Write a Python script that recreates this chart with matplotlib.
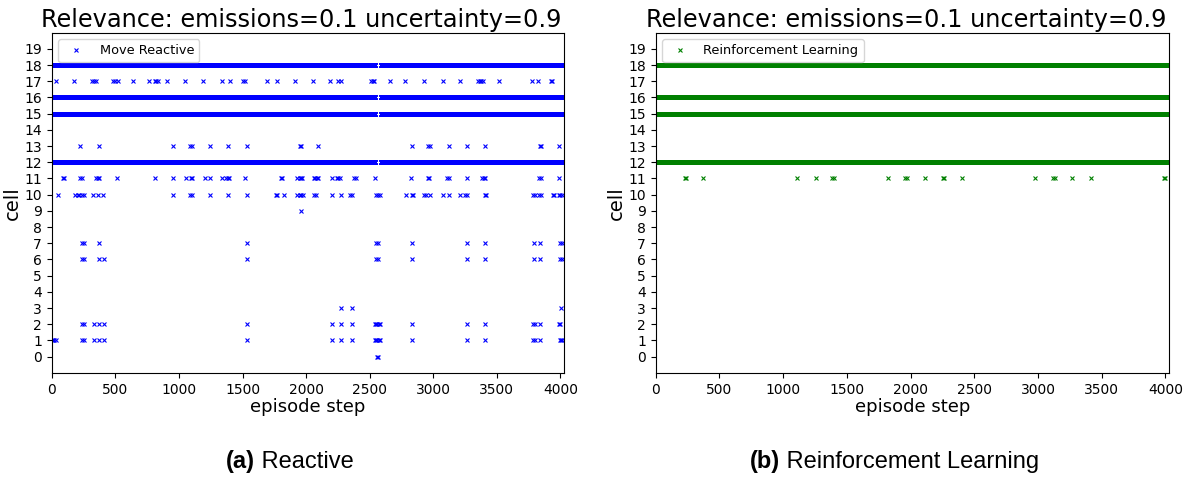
import matplotlib
matplotlib.use("Agg")
import matplotlib.pyplot as plt
import numpy as np

n_steps = 4030
cells = list(range(20))
step_ticks = [0, 500, 1000, 1500, 2000, 2500, 3000, 3500, 4000]

# cells that stay occupied for the whole episode, with the step ranges where they empty out
react_full_rows = [18, 16, 15, 12]
react_gaps = {
    18: [(238, 244), (2545, 2585), (3263, 3269), (3407, 3413)],
    16: [(238, 244), (334, 340), (1515, 1521), (1954, 1960), (2080, 2086), (2246, 2252),
         (2356, 2362), (2545, 2585), (2829, 2835), (2966, 2972), (3263, 3269),
         (3392, 3402), (3827, 3833)],
    15: [(238, 244), (2545, 2585), (2829, 2835), (3263, 3269), (3827, 3833)],
    12: [(238, 244), (2545, 2585)],
}

# sparse visits of the reactive agent, per cell
react_c17 = [34, 173, 318, 332, 345, 485, 500, 522, 641, 765, 810, 822, 835, 909, 1048, 1193,
             1335, 1400, 1505, 1517, 1689, 1768, 1913, 2052, 2188, 2249, 2275, 2510, 2522, 2534,
             2656, 2780, 2924, 3074, 3213, 3352, 3365, 3378, 3391, 3520, 3778, 3825, 3922, 3934]
react_c13 = [226, 368, 954, 1087, 1100, 1248, 1387, 1532, 1950, 1962, 2091, 2832, 2962, 2975,
             3121, 3266, 3405, 3838, 3850, 3988]
react_c11 = [86, 98, 225, 237, 350, 362, 372, 515, 809, 954, 1059, 1092, 1104, 1203, 1242,
             1340, 1370, 1382, 1394, 1518, 1801, 1813, 1926, 1950, 1960, 1970, 2060, 2072,
             2084, 2096, 2207, 2240, 2252, 2264, 2378, 2390, 2543, 2827, 2958, 2970, 3110,
             3122, 3266, 3385, 3397, 3409, 3832, 3844, 3988]
react_c10 = [47, 184, 205, 218, 240, 252, 324, 363, 402, 954, 1087, 1100, 1248, 1387, 1532,
             1762, 1774, 1828, 1926, 1950, 1962, 1972, 2064, 2076, 2201, 2275, 2348, 2360,
             2550, 2562, 2582, 2785, 2832, 2844, 2930, 2942, 2977, 3074, 3121, 3213, 3252,
             3264, 3404, 3416, 3785, 3797, 3832, 3844, 3938, 3950, 3988, 4000, 4014]
react_c9 = [1960]
react_c7 = [240, 250, 371, 1532, 2550, 2562, 2832, 3266, 3410, 3791, 3838, 3993, 4015]
react_c6 = [240, 250, 371, 410, 1532, 2550, 2562, 2832, 3266, 3410, 3791, 3838, 3993, 4015]
react_c3 = [2275, 2359, 4006]
react_c2 = [240, 250, 329, 371, 410, 1532, 2201, 2275, 2359, 2540, 2550, 2560, 2570, 2580,
            2832, 3266, 3410, 3785, 3797, 3838, 3988, 4000]
react_c1 = [0, 10, 20, 30, 240, 250, 329, 371, 410, 1532, 2201, 2275, 2359, 2540, 2550, 2560,
            2570, 2580, 2832, 3266, 3410, 3785, 3797, 3838, 3995, 4005, 4015]
react_c0 = [2560, 2568]

rl_full_rows = [18, 16, 15, 12]
rl_gaps = {16: [(232, 238), (3987, 3993)]}
rl_c11 = [230, 240, 374, 1107, 1254, 1386, 1398, 1825, 1960, 1972, 2116, 2254, 2266, 2402,
          2979, 3120, 3132, 3267, 3414, 3988, 4000]


def occupied_steps(gaps):
    steps = np.arange(n_steps)
    keep = np.ones(n_steps, dtype=bool)
    for a, b in gaps:
        keep[(steps >= a) & (steps <= b)] = False
    return steps[keep]


def collect(full_rows, gaps, sparse):
    xs, ys = [], []
    for row in full_rows:
        s = occupied_steps(gaps.get(row, []))
        xs.append(s)
        ys.append(np.full(len(s), row))
    for row, steps in sparse.items():
        xs.append(np.array(steps))
        ys.append(np.full(len(steps), row))
    return np.concatenate(xs), np.concatenate(ys)


def draw_panel(ax, x, y, color, label):
    ax.plot(x, y, 'x', color=color, markersize=3.2, markeredgewidth=0.8, label=label)
    ax.set_xlim(0, n_steps)
    ax.set_ylim(-1, 20)
    ax.set_yticks(cells)
    ax.set_xticks(step_ticks)
    ax.tick_params(labelsize=10)
    ax.set_xlabel('episode step', fontsize=13, labelpad=1)
    ax.set_ylabel('cell', fontsize=14, labelpad=2)
    ax.set_title('Relevance: emissions=0.1 uncertainty=0.9', fontsize=17.3, pad=4, x=0.487)
    ax.legend(loc='upper left', fontsize=9.3, markerscale=1.0)


fig = plt.figure(figsize=(11.87, 4.78), dpi=100)
ax1 = fig.add_axes([0.0436, 0.2199, 0.4318, 0.7119])
ax2 = fig.add_axes([0.5524, 0.2199, 0.4327, 0.7119])

rx, ry = collect(react_full_rows, react_gaps,
                 {17: react_c17, 13: react_c13, 11: react_c11, 10: react_c10, 9: react_c9,
                  7: react_c7, 6: react_c6, 3: react_c3, 2: react_c2, 1: react_c1, 0: react_c0})
draw_panel(ax1, rx, ry, 'blue', 'Move Reactive')

lx, ly = collect(rl_full_rows, rl_gaps, {11: rl_c11})
draw_panel(ax2, lx, ly, 'green', 'Reinforcement Learning')

# subfigure captions: bold tag followed by regular text
for x0, tag, name in [(226 / 1187, '(a)', ' Reactive'), (750 / 1187, '(b)', ' Reinforcement Learning')]:
    t = fig.text(x0, 0.034, tag, fontsize=17, fontweight='bold', family='Liberation Sans',
                 ha='left', va='center')
    ax1.annotate(name, xy=(1, 0.5), xycoords=t, fontsize=17, family='Liberation Sans',
                 ha='left', va='center', annotation_clip=False)

fig.savefig('out.png', dpi=100)
